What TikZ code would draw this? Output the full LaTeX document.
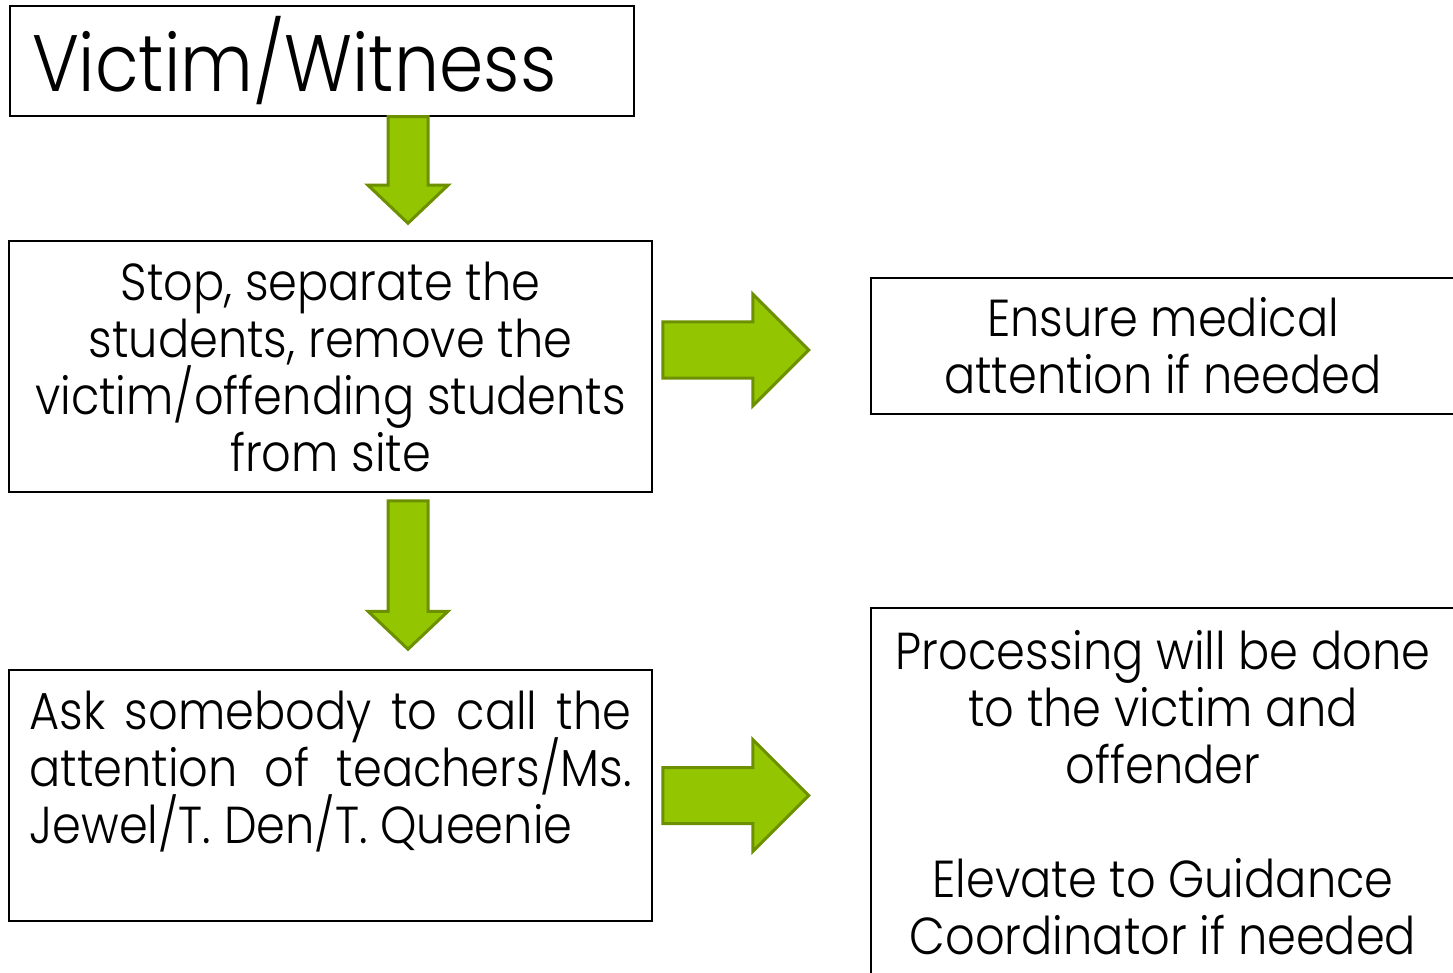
\documentclass[tikz,border=0pt]{standalone}
\usepackage{fontspec}
\setmainfont{Poppins Light}[FakeStretch = 0.89]
\usetikzlibrary{calc}
\setlength{\lineskiplimit}{-100pt}

\definecolor{arrowgreen}{RGB}{147,197,0}
\definecolor{arrowedge}{RGB}{108,144,0}

\tikzset{
  box/.style = {draw = black, line width = 1.5pt, inner sep = 0pt,
                font = \fontsize{52}{57}\selectfont},
  fatarrow/.style = {fill = arrowgreen, draw = arrowedge, line width = 3pt,
                     line join = miter},
}

% fat block arrows, #1 = start of the shaft, #2 = tip
\newcommand{\fatdown}[2]{%
  \draw[fatarrow] ($(#1)+(-20,0)$) -- ($(#2)+(-20,-38)$) -- ($(#2)+(-40,-38)$)
    -- (#2) -- ($(#2)+(40,-38)$) -- ($(#2)+(20,-38)$) -- ($(#1)+(20,0)$) -- cycle;}
\newcommand{\fatright}[2]{%
  \draw[fatarrow] ($(#1)+(0,-28)$) -- ($(#2)+(-56,-28)$) -- ($(#2)+(-56,-56)$)
    -- (#2) -- ($(#2)+(-56,56)$) -- ($(#2)+(-56,28)$) -- ($(#1)+(0,28)$) -- cycle;}
% one justified line of fixed width
\newcommand{\justline}[1]{\makebox[602pt][s]{#1}}

\begin{document}
\begin{tikzpicture}[x = 1pt, y = -1pt]
\useasboundingbox (0, 0) rectangle (1453, 973);

\node[box, minimum width = 624pt, minimum height = 110pt, text width = 580pt,
      align = left, font = \fontsize{80}{90}\selectfont] (victim) at (322, 61)
  {Victim/Witness};
\node[box, minimum width = 643pt, minimum height = 251pt, align = center]
  (stop) at (330.5, 366.5)
  {Stop, separate the\\students, remove the\\victim/offending students\\from site};
\node[box, minimum width = 584pt, minimum height = 136pt, align = center]
  (medical) at (1163, 346)
  {Ensure medical\\attention if needed};
\node[box, minimum width = 643pt, minimum height = 251pt, align = left]
  (ask) at (330.5, 795.5)
  {\justline{Ask somebody to call the}\\\justline{attention of teachers/Ms.}\\
   Jewel/T. Den/T. Queenie\\[-18pt] \strut};
\node[box, minimum width = 584pt, minimum height = 370pt, align = center]
  (processing) at (1163, 793)
  {Processing will be done\\to the victim and\\offender\\[57pt]
   Elevate to Guidance\\Coordinator if needed};

\coordinate (d1s) at ([xshift = 86pt]victim.south);
\coordinate (d1e) at ([yshift = 17pt]stop.north -| d1s);
\coordinate (d2s) at ([yshift = -8pt]stop.south -| d1s);
\coordinate (d2e) at ([yshift = 20pt]ask.north -| d1s);
\coordinate (r1s) at ([xshift = 10pt, yshift = 16.5pt]stop.east);
\coordinate (r1e) at ([xshift = 146pt]r1s);
\coordinate (r2s) at ([xshift = 10pt]ask.east);
\coordinate (r2e) at ([xshift = 146pt]r2s);

\fatdown{d1s}{d1e}
\fatdown{d2s}{d2e}
\fatright{r1s}{r1e}
\fatright{r2s}{r2e}
\end{tikzpicture}
\end{document}
